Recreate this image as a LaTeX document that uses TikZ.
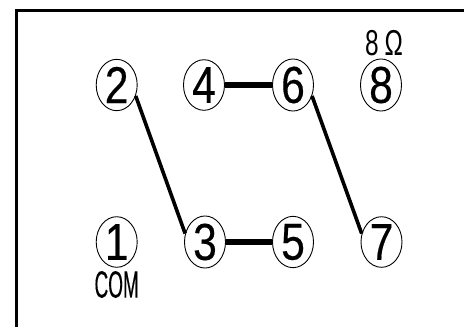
\documentclass[tikz,border=0pt]{standalone}
\usepackage{fontspec}
\setmainfont{Liberation Sans}
\newfontfamily\digitfont[FakeStretch=0.82,FakeBold=0.3]{Liberation Sans}
\newfontfamily\labelfont[FakeStretch=0.5,FakeBold=0.25]{Liberation Sans}
\newfontfamily\ohmfont[FakeStretch=0.68]{Liberation Sans}
\usetikzlibrary{shapes.geometric}
\tikzset{
  pin/.style={ellipse,draw=black,line width=0.9pt,minimum width=41pt,minimum height=48pt,inner sep=0pt,
    font=\digitfont\fontsize{52}{52}\selectfont},
  thin link/.style={line width=3.6pt,line cap=butt},
  thick link/.style={line width=5.5pt,line cap=butt},
  frame line/.style={line width=2.4pt},
}
\begin{document}
\begin{tikzpicture}[x=1pt,y=-1pt]
\useasboundingbox (0,0) rectangle (464,327);
\fill[white] (0,0) rectangle (464,327);
\coordinate (fb) at (16.5,327);
\coordinate (ft) at (16.5,10.5);
\coordinate (fr) at (464,10.5);
\draw[frame line,line join=miter] (fb) -- (ft) -- (fr);
\node[pin] (n2) at (116.7,85) {2};
\node[pin] (n4) at (204,85) {4};
\node[pin] (n6) at (293,85) {6};
\node[pin] (n8) at (381,85) {8};
\node[pin] (n1) at (116.7,242) {1};
\node[pin] (n3) at (205,242) {3};
\node[pin] (n5) at (293,242) {5};
\node[pin] (n7) at (381.5,242) {7};
\node[inner sep=0pt,font=\ohmfont\fontsize{36}{36}\selectfont] (ohm) at (384,43.5) {8\,Ω};
\node[inner sep=0pt,font=\labelfont\fontsize{38}{38}\selectfont] (com) at (116.7,284.5) {COM};
\draw[thin link] (n2.-30) -- (n3.157);
\draw[thin link] (n6.-30) -- (n7.157);
\draw[thick link] (n4) -- (n6);
\draw[thick link] (n3) -- (n5);
\end{tikzpicture}
\end{document}
